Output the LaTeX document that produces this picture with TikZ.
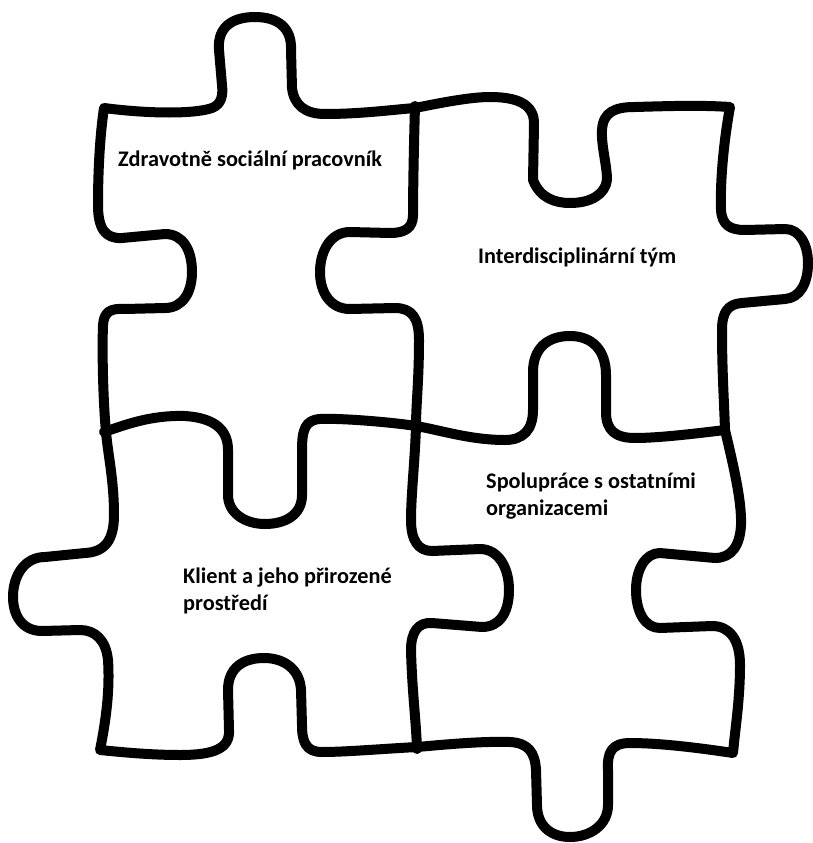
\documentclass[tikz,border=0pt]{standalone}
\usepackage{fontspec}
\setmainfont{Carlito}
\begin{document}
\begin{tikzpicture}[x=1pt,y=-1pt,
  edge/.style={line width=10pt,line join=round,line cap=round,black},
  lbl/.style={font=\bfseries\fontsize{22.3}{27}\selectfont,inner sep=0pt,anchor=west,align=left,text=black}]
\useasboundingbox (0,0) rectangle (812,843);
% outer outline
\draw[edge] (104,108) .. controls (150,114) and (195,114) .. (212,108)
 .. controls (222,104) and (223,95) .. (222,85)
 -- (219,50)
 .. controls (217,25) and (235,17) .. (255,17)
 .. controls (278,17) and (292,28) .. (291,50)
 -- (292,88)
 .. controls (294,105) and (305,114) .. (325,114)
 .. controls (360,114) and (390,110) .. (415,108)
 .. controls (440,103) and (470,97) .. (490,97)
 .. controls (515,97) and (535,103) .. (534,125)
 -- (533,180)
 .. controls (540,198) and (555,203) .. (570,203)
 .. controls (590,203) and (605,195) .. (607,180)
 .. controls (607,165) and (601,145) .. (602,130)
 .. controls (603,112) and (615,107) .. (635,107)
 .. controls (670,106) and (700,105) .. (730,107)
 .. controls (724,140) and (720,180) .. (721,210)
 .. controls (722,225) and (730,230) .. (745,230)
 -- (785,229)
 .. controls (800,229) and (808,245) .. (808,263)
 .. controls (808,283) and (800,298) .. (785,299)
 -- (742,303)
 .. controls (728,304) and (722,312) .. (722,330)
 .. controls (722,370) and (724,400) .. (725,430)
 .. controls (732,460) and (742,500) .. (741,525)
 .. controls (740,545) and (732,558) .. (715,558)
 -- (660,553)
 .. controls (645,553) and (636,570) .. (636,590)
 .. controls (636,612) and (645,628) .. (660,628)
 -- (712,626)
 .. controls (730,626) and (740,640) .. (740,665)
 .. controls (740,700) and (735,730) .. (733,753)
 .. controls (700,748) and (660,743) .. (630,743)
 .. controls (612,743) and (607,752) .. (608,770)
 -- (608,805)
 .. controls (608,825) and (590,837) .. (570,837)
 .. controls (550,837) and (537,825) .. (537,805)
 -- (536,770)
 .. controls (535,752) and (528,743) .. (510,742)
 .. controls (480,741) and (440,745) .. (417,747)
 .. controls (380,749) and (345,752) .. (322,752)
 .. controls (306,752) and (302,742) .. (302,725)
 -- (301,690)
 .. controls (300,670) and (285,658) .. (264,658)
 .. controls (243,658) and (228,668) .. (228,690)
 -- (229,730)
 .. controls (230,748) and (215,755) .. (180,755)
 .. controls (150,755) and (120,752) .. (100,750)
 .. controls (106,720) and (110,690) .. (108,660)
 .. controls (106,640) and (95,630) .. (80,630)
 -- (42,631)
 .. controls (22,631) and (13,615) .. (13,597)
 .. controls (13,575) and (25,557) .. (45,557)
 -- (85,553)
 .. controls (105,552) and (114,540) .. (114,515)
 .. controls (114,480) and (108,455) .. (106,432)
 .. controls (103,400) and (102,350) .. (103,325)
 .. controls (104,312) and (110,308) .. (125,309)
 -- (165,308)
 .. controls (183,308) and (192,292) .. (192,272)
 .. controls (192,250) and (183,234) .. (165,234)
 -- (122,238)
 .. controls (105,239) and (98,228) .. (98,205)
 .. controls (98,170) and (100,135) .. (104,108)
 -- cycle;
% vertical seam
\draw[edge] (415,106) .. controls (414,140) and (413,190) .. (413,215)
 .. controls (413,228) and (405,233) .. (390,233)
 -- (350,232)
 .. controls (330,232) and (320,252) .. (320,272)
 .. controls (320,292) and (330,309) .. (350,309)
 -- (395,308)
 .. controls (412,308) and (419,318) .. (419,340)
 .. controls (419,380) and (416,405) .. (416,426)
 .. controls (415,460) and (411,495) .. (411,520)
 .. controls (411,540) and (418,551) .. (432,551)
 -- (480,549)
 .. controls (498,549) and (509,567) .. (509,590)
 .. controls (509,612) and (500,627) .. (482,627)
 -- (432,623)
 .. controls (418,622) and (411,632) .. (411,650)
 .. controls (412,690) and (416,720) .. (417,749);
% horizontal seam
\draw[edge] (725,430) .. controls (700,433) and (660,438) .. (635,438)
 .. controls (615,438) and (606,430) .. (606,412)
 -- (606,375)
 .. controls (606,350) and (592,336) .. (570,336)
 .. controls (548,336) and (533,348) .. (533,372)
 -- (533,410)
 .. controls (533,430) and (523,440) .. (505,440)
 .. controls (470,440) and (440,430) .. (416,426)
 .. controls (390,422) and (340,418) .. (320,419)
 .. controls (305,420) and (302,430) .. (302,450)
 -- (302,495)
 .. controls (302,515) and (285,524) .. (265,524)
 .. controls (245,524) and (228,513) .. (228,495)
 -- (228,450)
 .. controls (228,430) and (215,418) .. (185,416)
 .. controls (150,415) and (125,425) .. (104,432);
% labels
\node[lbl] (t1) at (118,160) {Zdravotně sociální pracovník};
\node[lbl] (t2) at (478,257) {Interdisciplinární tým};
\node[lbl] (t3) at (183,591) {Klient a jeho přirozené\\prostředí};
\node[lbl] (t4) at (486,496) {Spolupráce s ostatními\\organizacemi};
\end{tikzpicture}
\end{document}
